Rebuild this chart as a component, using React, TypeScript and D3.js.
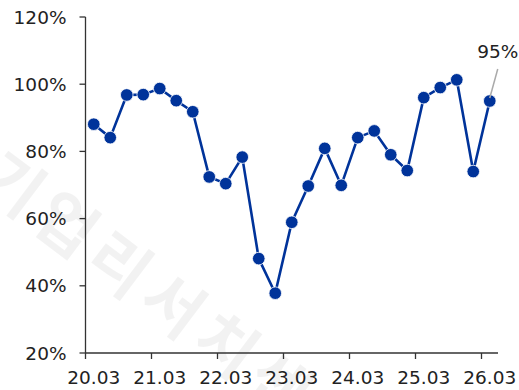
import React from "react";
import * as d3 from "d3";

// Quarterly values (%), 20.03 through 26.03
const quarters = [
  "20.03", "20.06", "20.09", "20.12",
  "21.03", "21.06", "21.09", "21.12",
  "22.03", "22.06", "22.09", "22.12",
  "23.03", "23.06", "23.09", "23.12",
  "24.03", "24.06", "24.09", "24.12",
  "25.03", "25.06", "25.09", "25.12",
  "26.03",
];
const values = [
  88.1, 84.1, 96.8, 96.9,
  98.7, 95.1, 91.8, 72.4,
  70.4, 78.3, 48.1, 37.8,
  58.9, 69.7, 80.9, 69.9,
  84.1, 86.1, 79.0, 74.3,
  96.0, 99.0, 101.3, 74.0,
  95,
];
const yTicks = [20, 40, 60, 80, 100, 120];
const xTickLabels = ["20.03", "21.03", "22.03", "23.03", "24.03", "25.03", "26.03"];
const watermark = "기업리서치센터";

const W = 519;
const H = 390;
const FONT = "'DejaVu Sans', 'Noto Sans', sans-serif";
const BLUE = "#00339a";

export default function App() {
  const left = 85.5;
  const right = 498;
  const top = 17;
  const bottom = 353;

  const x = d3.scaleBand<string>().domain(quarters).range([left, right]);
  const y = d3.scaleLinear().domain([20, 120]).range([bottom, top]);
  const cx = (q: string) => (x(q) ?? 0) + x.bandwidth() / 2;

  const line = d3
    .line<number>()
    .x((_, i) => cx(quarters[i]))
    .y((d) => y(d));

  const lastQ = quarters[quarters.length - 1];
  const lastV = values[values.length - 1];

  return (
    <div style={{ position: "fixed", left: 0, top: 0 }}>
      <svg width={W} height={H} style={{ display: "block", background: "#fff" }}>
        {/* faint diagonal watermark */}
        <text
          transform="translate(-25,185) rotate(37)"
          fontFamily="'Noto Sans CJK KR', sans-serif"
          fontWeight={700}
          fontSize={64}
          fill="#000"
          fillOpacity={0.05}
          letterSpacing={8}
        >
          {watermark}
        </text>

        {/* y axis */}
        <line x1={left} x2={left} y1={top} y2={bottom} stroke="#333" strokeWidth={1.3} />
        {yTicks.map((t) => (
          <g key={t}>
            <line x1={left - 6} x2={left} y1={y(t)} y2={y(t)} stroke="#333" strokeWidth={1.3} />
            <text
              x={left - 19}
              y={y(t)}
              dy="0.36em"
              textAnchor="end"
              fontFamily={FONT}
              fontSize={18.5}
              fill="#222"
            >
              {t}%
            </text>
          </g>
        ))}

        {/* x axis */}
        <line x1={left} x2={right} y1={bottom} y2={bottom} stroke="#333" strokeWidth={1.3} />
        {xTickLabels.map((q) => (
          <g key={q}>
            <line x1={x(q)} x2={x(q)} y1={bottom} y2={bottom + 6} stroke="#333" strokeWidth={1.3} />
            <text
              x={cx(q)}
              y={bottom + 24}
              dy="0.36em"
              textAnchor="middle"
              fontFamily={FONT}
              fontSize={18.5}
              fill="#222"
            >
              {q}
            </text>
          </g>
        ))}

        {/* series */}
        <path d={line(values) ?? ""} fill="none" stroke={BLUE} strokeWidth={2.6} strokeLinejoin="round" />
        {values.map((v, i) => (
          <circle key={i} cx={cx(quarters[i])} cy={y(v)} r={6.3} fill={BLUE} stroke="#fff" strokeWidth={0.8} />
        ))}

        {/* last value callout */}
        <line
          x1={cx(lastQ)}
          y1={y(lastV) - 3}
          x2={cx(lastQ) + 8}
          y2={y(lastV) - 32}
          stroke="#aaa"
          strokeWidth={1.5}
        />
        <text
          x={cx(lastQ) - 12.5}
          y={y(lastV) - 43}
          fontFamily={FONT}
          fontSize={18.5}
          fill="#222"
        >
          {Math.round(lastV)}%
        </text>
      </svg>
    </div>
  );
}
